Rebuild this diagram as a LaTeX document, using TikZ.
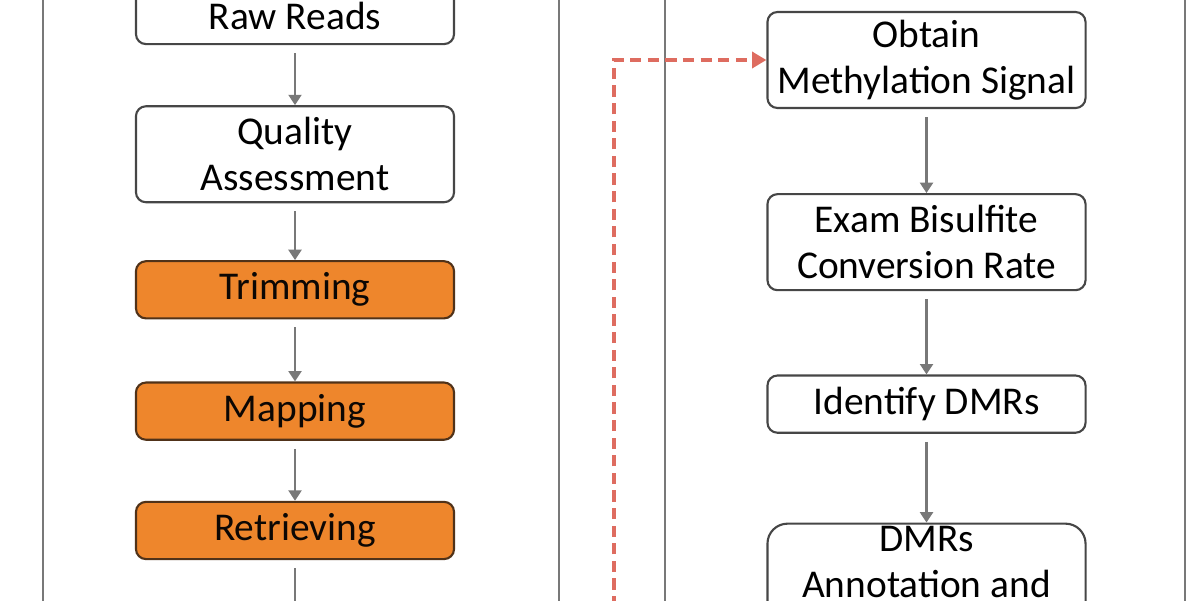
\documentclass[tikz,border=0pt]{standalone}
\usepackage{fontspec}
\setmainfont{Carlito}
\usetikzlibrary{arrows.meta, positioning}
\definecolor{cOrange}{RGB}{238,134,44}
\definecolor{cEdge}{RGB}{70,70,70}
\definecolor{cArrow}{RGB}{120,120,120}
\definecolor{cRed}{RGB}{222,108,96}
\definecolor{cBrown}{RGB}{80,50,25}
\tikzset{
    stepbox/.style ={rectangle, rounded corners=0.25cm, minimum width=7.95cm, minimum height=1.43cm, text centered, align=center, draw=cEdge, line width=1.5pt, fill=white, inner sep=2pt},
    twoline/.style ={stepbox, minimum height=2.4cm},
    trimbox/.style ={stepbox, fill=cOrange, draw=cBrown, text=black!85!cBrown},
    flowarrow/.style={-{Triangle[length=2.6mm, width=3.2mm]}, line width=2pt, draw=cArrow, shorten <=0.2cm},
    linkarrow/.style={-{Triangle[length=3.6mm, width=4mm]}, line width=2.6pt, draw=cRed, dash pattern=on 0.28cm off 0.16cm},
    panel/.style    ={draw=cArrow, line width=1.6pt},
}

\begin{document}
\begin{tikzpicture}[x=0.025cm, y=-0.025cm, every node/.style={font=\fontsize{28}{32.5}\selectfont}, node distance=1.5cm]
            \useasboundingbox (0,0) rectangle (1200,600);
            \draw[panel] (43,-60) rectangle (559,660);
            \draw[panel] (665,-60) rectangle (1185,660);
            % left column
            \node[stepbox] (raw) at (295,15.5) {Raw Reads};
            \node[twoline, below=of raw] (qual) {Quality\\Assessment};
            \node[trimbox, below=1.42cm of qual] (trim) {Trimming};
            \node[trimbox, below=1.55cm of trim] (map) {Mapping};
            \node[trimbox, below=of map] (retr) {Retrieving};
            \coordinate[below=1.5cm of retr] (next);
            \draw[flowarrow](raw)--(qual);
            \draw[flowarrow](qual)--(trim);
            \draw[flowarrow](trim)--(map);
            \draw[flowarrow](map)--(retr);
            \draw[flowarrow](retr.south)--(next);
            % right column
            \node[twoline] (obtain) at (926.5,60) {Obtain\\Methylation Signal};
            \node[twoline, below=2.1cm of obtain] (exam) {Exam Bisulfite\\Conversion Rate};
            \node[stepbox, below=2.08cm of exam] (dmr) {Identify DMRs};
            \node[stepbox, below=2.22cm of dmr, minimum height=3.0cm, rounded corners=0.5cm, anchor=north] (annot) {DMRs\\Annotation and\\ };
            \draw[flowarrow](obtain)--(exam);
            \draw[flowarrow](exam)--(dmr);
            \draw[flowarrow](dmr)--(annot);
            % link between panels
            \coordinate (src) at (614,660);
            \draw[linkarrow](src) |- (obtain.west);
        \end{tikzpicture}
\end{document}
